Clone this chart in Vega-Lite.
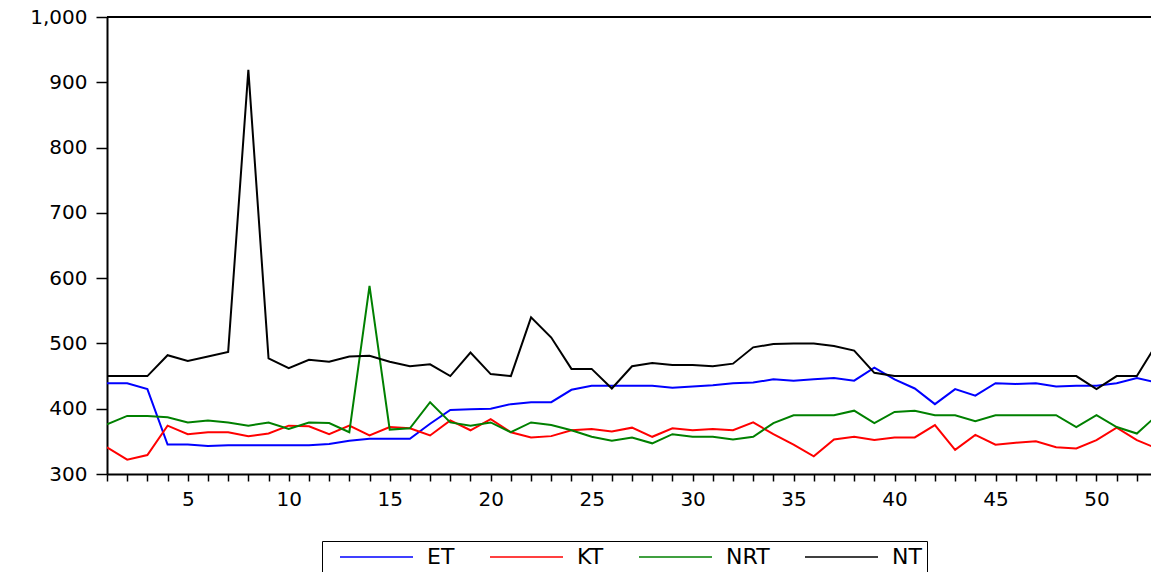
{
  "$schema": "https://vega.github.io/schema/vega-lite/v6.json",
  "autosize": {"type": "none"},
  "padding": {"left": 107, "top": 17, "right": 0, "bottom": 98},
  "width": 1044,
  "height": 457,
  "background": "white",
  "config": {
    "view": {"stroke": null},
    "font": "DejaVu Sans",
    "axis": {
      "grid": false,
      "title": null,
      "domainColor": "black",
      "domainWidth": 2,
      "tickColor": "black",
      "tickWidth": 1.5,
      "labelColor": "black",
      "labelFont": "DejaVu Sans",
      "labelFontSize": 20
    }
  },
  "data": {
    "values": [
      {"t": 1, "ET": 439, "KT": 341, "NRT": 376, "NT": 450},
      {"t": 2, "ET": 439, "KT": 322, "NRT": 389, "NT": 450},
      {"t": 3, "ET": 430, "KT": 329, "NRT": 389, "NT": 450},
      {"t": 4, "ET": 345, "KT": 374, "NRT": 387, "NT": 482},
      {"t": 5, "ET": 345, "KT": 361, "NRT": 379, "NT": 473},
      {"t": 6, "ET": 343, "KT": 364, "NRT": 382, "NT": 480},
      {"t": 7, "ET": 344, "KT": 364, "NRT": 379, "NT": 487},
      {"t": 8, "ET": 344, "KT": 358, "NRT": 374, "NT": 919},
      {"t": 9, "ET": 344, "KT": 362, "NRT": 379, "NT": 477},
      {"t": 10, "ET": 344, "KT": 374, "NRT": 369, "NT": 462},
      {"t": 11, "ET": 344, "KT": 373, "NRT": 379, "NT": 475},
      {"t": 12, "ET": 346, "KT": 361, "NRT": 378, "NT": 472},
      {"t": 13, "ET": 351, "KT": 374, "NRT": 364, "NT": 480},
      {"t": 14, "ET": 354, "KT": 359, "NRT": 588, "NT": 481},
      {"t": 15, "ET": 354, "KT": 372, "NRT": 368, "NT": 472},
      {"t": 16, "ET": 354, "KT": 370, "NRT": 370, "NT": 465},
      {"t": 17, "ET": 377, "KT": 359, "NRT": 410, "NT": 468},
      {"t": 18, "ET": 398, "KT": 382, "NRT": 379, "NT": 450},
      {"t": 19, "ET": 399, "KT": 367, "NRT": 374, "NT": 486},
      {"t": 20, "ET": 400, "KT": 384, "NRT": 379, "NT": 453},
      {"t": 21, "ET": 407, "KT": 364, "NRT": 364, "NT": 450},
      {"t": 22, "ET": 410, "KT": 356, "NRT": 379, "NT": 540},
      {"t": 23, "ET": 410, "KT": 358, "NRT": 375, "NT": 509},
      {"t": 24, "ET": 429, "KT": 367, "NRT": 367, "NT": 461},
      {"t": 25, "ET": 435, "KT": 369, "NRT": 357, "NT": 461},
      {"t": 26, "ET": 435, "KT": 365, "NRT": 351, "NT": 431},
      {"t": 27, "ET": 435, "KT": 371, "NRT": 356, "NT": 465},
      {"t": 28, "ET": 435, "KT": 357, "NRT": 347, "NT": 470},
      {"t": 29, "ET": 432, "KT": 370, "NRT": 361, "NT": 467},
      {"t": 30, "ET": 434, "KT": 367, "NRT": 357, "NT": 467},
      {"t": 31, "ET": 436, "KT": 369, "NRT": 357, "NT": 465},
      {"t": 32, "ET": 439, "KT": 367, "NRT": 353, "NT": 469},
      {"t": 33, "ET": 440, "KT": 379, "NRT": 357, "NT": 494},
      {"t": 34, "ET": 445, "KT": 361, "NRT": 378, "NT": 499},
      {"t": 35, "ET": 443, "KT": 345, "NRT": 390, "NT": 500},
      {"t": 36, "ET": 445, "KT": 327, "NRT": 390, "NT": 500},
      {"t": 37, "ET": 447, "KT": 353, "NRT": 390, "NT": 496},
      {"t": 38, "ET": 443, "KT": 357, "NRT": 397, "NT": 489},
      {"t": 39, "ET": 463, "KT": 352, "NRT": 378, "NT": 455},
      {"t": 40, "ET": 445, "KT": 356, "NRT": 395, "NT": 450},
      {"t": 41, "ET": 431, "KT": 356, "NRT": 397, "NT": 450},
      {"t": 42, "ET": 407, "KT": 375, "NRT": 390, "NT": 450},
      {"t": 43, "ET": 430, "KT": 337, "NRT": 390, "NT": 450},
      {"t": 44, "ET": 420, "KT": 360, "NRT": 381, "NT": 450},
      {"t": 45, "ET": 439, "KT": 345, "NRT": 390, "NT": 450},
      {"t": 46, "ET": 438, "KT": 348, "NRT": 390, "NT": 450},
      {"t": 47, "ET": 439, "KT": 350, "NRT": 390, "NT": 450},
      {"t": 48, "ET": 434, "KT": 341, "NRT": 390, "NT": 450},
      {"t": 49, "ET": 435, "KT": 339, "NRT": 372, "NT": 450},
      {"t": 50, "ET": 435, "KT": 352, "NRT": 390, "NT": 430},
      {"t": 51, "ET": 439, "KT": 371, "NRT": 372, "NT": 450},
      {"t": 52, "ET": 447, "KT": 352, "NRT": 362, "NT": 450},
      {"t": 53, "ET": 440, "KT": 339, "NRT": 390, "NT": 500}
    ]
  },
  "layer": [
    {
      "transform": [{"fold": ["ET", "KT", "NRT", "NT"], "as": ["series", "value"]}],
      "mark": {"type": "line", "strokeWidth": 2, "clip": true},
      "encoding": {
        "x": {
          "field": "t",
          "type": "quantitative",
          "scale": {"domain": [1, 52.7], "nice": false, "zero": false},
          "axis": {
            "values": [1,2,3,4,5,6,7,8,9,10,11,12,13,14,15,16,17,18,19,20,21,22,23,24,25,26,27,28,29,30,31,32,33,34,35,36,37,38,39,40,41,42,43,44,45,46,47,48,49,50,51,52],
            "labelExpr": "datum.value % 5 === 0 ? datum.label : ''",
            "tickSize": 7,
            "labelPadding": 8,
            "labelFlush": false
          }
        },
        "y": {
          "field": "value",
          "type": "quantitative",
          "scale": {"domain": [300, 1000], "nice": false, "zero": false},
          "axis": {
            "values": [300, 400, 500, 600, 700, 800, 900, 1000],
            "format": ",.0f",
            "tickSize": 11,
            "labelPadding": 9
          }
        },
        "color": {
          "field": "series",
          "type": "nominal",
          "scale": {"domain": ["ET", "KT", "NRT", "NT"], "range": ["#0000FF", "#FF0000", "#008000", "#000000"]},
          "legend": {
            "title": null,
            "orient": "none",
            "legendX": 215,
            "legendY": 524,
            "direction": "horizontal",
            "columns": 4,
            "symbolType": "stroke",
            "symbolSize": 5329,
            "symbolStrokeWidth": 1.5,
            "symbolOffset": 12,
            "clipHeight": 22,
            "labelFont": "DejaVu Sans",
            "labelFontSize": 22,
            "labelColor": "black",
            "labelOffset": 13,
            "columnPadding": 22,
            "padding": 5,
            "strokeColor": "black",
            "fillColor": "white"
          }
        }
      }
    },
    {
      "mark": {"type": "rule", "color": "black", "strokeWidth": 2},
      "encoding": {"y": {"datum": 1000}}
    }
  ]
}
